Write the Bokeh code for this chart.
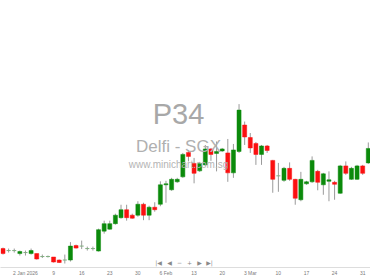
from bokeh.plotting import figure
from bokeh.models import Range1d, Label, FixedTicker, ColumnDataSource
from bokeh.embed import file_html
from bokeh.resources import INLINE

# Daily OHLC for Delfi (SGX: P34), one entry per trading session
open_ = [0.632, 0.628, 0.628, 0.622, 0.624, 0.622, 0.622, 0.616, 0.616, 0.615,
         0.609, 0.609, 0.609, 0.638, 0.637, 0.632, 0.632, 0.627, 0.667, 0.671,
         0.682, 0.694, 0.710, 0.699, 0.699, 0.721, 0.699, 0.715, 0.721, 0.760,
         0.750, 0.766, 0.776, 0.825, 0.803, 0.788, 0.800, 0.832, 0.823, 0.828,
         0.824, 0.784, 0.827, 0.880, 0.855, 0.843, 0.821, 0.838, 0.809, 0.778,
         0.769, 0.793, 0.771, 0.730, 0.762, 0.766, 0.787, 0.760, 0.767, 0.765,
         0.743, 0.798, 0.771, 0.771, 0.798, 0.804]
high = [0.634, 0.632, 0.632, 0.628, 0.628, 0.632, 0.622, 0.620, 0.618, 0.615,
        0.610, 0.620, 0.645, 0.640, 0.648, 0.636, 0.636, 0.672, 0.688, 0.688,
        0.702, 0.720, 0.720, 0.702, 0.727, 0.724, 0.718, 0.725, 0.767, 0.768,
        0.774, 0.774, 0.824, 0.830, 0.814, 0.806, 0.840, 0.834, 0.847, 0.834,
        0.852, 0.842, 0.922, 0.887, 0.864, 0.846, 0.840, 0.840, 0.810, 0.804,
        0.796, 0.805, 0.772, 0.786, 0.768, 0.817, 0.790, 0.784, 0.787, 0.768,
        0.800, 0.807, 0.796, 0.800, 0.800, 0.845]
low = [0.620, 0.624, 0.624, 0.618, 0.618, 0.620, 0.610, 0.613, 0.614, 0.604,
       0.603, 0.602, 0.606, 0.632, 0.631, 0.628, 0.628, 0.626, 0.662, 0.670,
       0.680, 0.692, 0.688, 0.692, 0.696, 0.689, 0.689, 0.706, 0.717, 0.724,
       0.748, 0.764, 0.774, 0.807, 0.763, 0.786, 0.798, 0.808, 0.787, 0.826,
       0.766, 0.774, 0.824, 0.840, 0.824, 0.800, 0.800, 0.824, 0.744, 0.746,
       0.766, 0.768, 0.720, 0.727, 0.760, 0.764, 0.749, 0.740, 0.727, 0.730,
       0.742, 0.780, 0.770, 0.770, 0.780, 0.802]
close = [0.622, 0.628, 0.628, 0.626, 0.624, 0.628, 0.611, 0.616, 0.616, 0.605,
         0.604, 0.609, 0.637, 0.633, 0.637, 0.632, 0.632, 0.670, 0.682, 0.682,
         0.699, 0.710, 0.694, 0.693, 0.721, 0.699, 0.715, 0.710, 0.760, 0.762,
         0.771, 0.771, 0.821, 0.817, 0.783, 0.803, 0.832, 0.821, 0.827, 0.832,
         0.784, 0.830, 0.910, 0.856, 0.834, 0.821, 0.838, 0.829, 0.771, 0.778,
         0.793, 0.771, 0.733, 0.771, 0.766, 0.809, 0.765, 0.782, 0.770, 0.761,
         0.798, 0.783, 0.793, 0.798, 0.783, 0.833]

# Session index of each date label on the time axis
tick_idx = [4, 9, 14, 19, 24, 29, 34, 39, 44, 49, 54, 59, 64]
tick_labels = ["2 Jan 2026", "9", "16", "23", "30", "6 Feb", "13", "20",
               "3 Mar", "10", "17", "24", "31"]

UP = "#0b8a0b"
DOWN = "#fb1010"
WICK = "#9a9a9a"
DOJI = "#7fae7f"

W, H = 370, 278
AXIS_H = 10
PX = 5.62            # pixels per session
PRICE_PER_PX = 0.002
TOP = 1.13
x0 = -2.5 / PX
x_range = Range1d(x0, x0 + W / PX)
y_range = Range1d(TOP - PRICE_PER_PX * (H - AXIS_H), TOP)


def px(sx, sy):
    """Screen pixel position -> data coordinates."""
    return x0 + sx / PX, TOP - PRICE_PER_PX * sy


idx = list(range(len(open_)))
body_w = 0.72
rows = dict(x=[], top=[], bottom=[], color=[])
doji = dict(x0=[], x1=[], y=[])
for i, o, c in zip(idx, open_, close):
    if o == c:
        doji["x0"].append(i - body_w / 2)
        doji["x1"].append(i + body_w / 2)
        doji["y"].append(o)
    else:
        rows["x"].append(i)
        rows["top"].append(max(o, c))
        rows["bottom"].append(min(o, c))
        rows["color"].append(UP if c > o else DOWN)

p = figure(width=W, height=H, output_backend="svg", toolbar_location=None,
           x_range=x_range, y_range=y_range, min_border_left=0,
           min_border_right=0, min_border_top=0, min_border_bottom=AXIS_H,
           background_fill_color="white", border_fill_color="white")
p.outline_line_color = None
p.grid.visible = False
p.yaxis.visible = False

# watermark
font = "Liberation Sans"
for text, sy, size, col in [("P34", 114, "29px", "#a8a8a8"),
                            ("Delfi - SGX", 147, "17px", "#b0b0b0"),
                            ("www.minichart.com.sg", 165, "10px", "#b4b4b4")]:
    lx, ly = px(178, sy)
    p.add_layout(Label(x=lx, y=ly, text=text, text_font=font,
                       text_font_size=size, text_color=col,
                       text_align="center", text_baseline="middle"))

# candles
p.segment(x0=idx, y0=low, x1=idx, y1=high, line_color=WICK, line_width=1)
p.vbar(x="x", top="top", bottom="bottom", width=body_w, fill_color="color",
       line_color="color", line_width=0.5, source=ColumnDataSource(rows))
p.segment(x0="x0", y0="y", x1="x1", y1="y", line_color=DOJI, line_width=1,
          source=ColumnDataSource(doji))

# navigation buttons
for sx, sym in [(158, "|◀"), (169, "◀"), (179, "−"), (189, "+"),
                (199, "▶"), (209, "▶|")]:
    lx, ly = px(sx, 263)
    p.add_layout(Label(x=lx, y=ly, text=sym, text_font="DejaVu Sans",
                       text_font_size="6px", text_color="#8a8a8a",
                       text_align="center", text_baseline="middle"))

ax = p.xaxis[0]
ax.ticker = FixedTicker(ticks=tick_idx)
ax.major_label_overrides = {t: s for t, s in zip(tick_idx, tick_labels)}
ax.major_label_text_font = font
ax.major_label_text_font_size = "5px"
ax.major_label_text_color = "#7a7a7a"
ax.major_label_standoff = 2
ax.major_tick_out = 0
ax.major_tick_in = 0
ax.minor_tick_out = 0
ax.minor_tick_in = 0
ax.axis_line_color = "#dddddd"

open("out.html", "w").write(file_html(p, INLINE))
